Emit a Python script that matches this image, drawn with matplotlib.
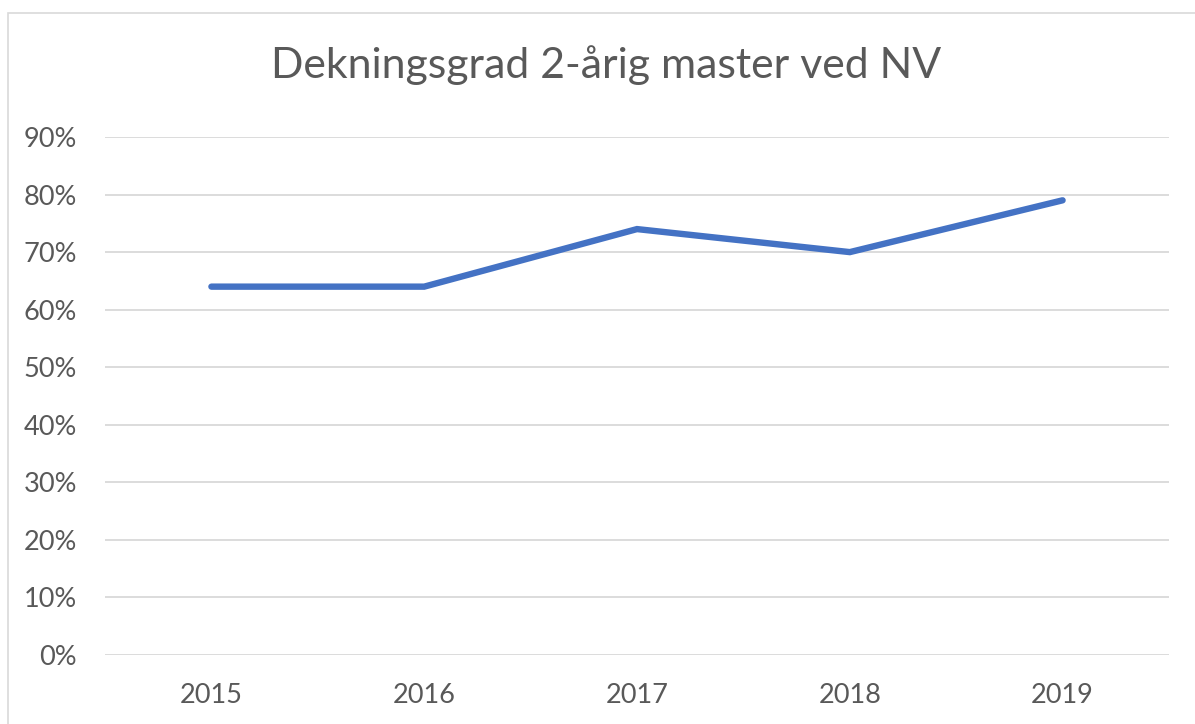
import matplotlib
matplotlib.use("Agg")
import matplotlib.pyplot as plt
from matplotlib.patches import Rectangle
from matplotlib.ticker import PercentFormatter

years = ["2015", "2016", "2017", "2018", "2019"]
coverage = [0.64, 0.64, 0.74, 0.70, 0.79]
y_ticks = [0.0, 0.1, 0.2, 0.3, 0.4, 0.5, 0.6, 0.7, 0.8, 0.9]
title = "Dekningsgrad 2-årig master ved NV"

W, H = 1195, 724
plt.rcParams['font.family'] = ['Lato', 'DejaVu Sans']
fig = plt.figure(figsize=(W / 100, H / 100), dpi=100)
fig.patch.set_facecolor("white")

# chart border (left/top visible)
fig.patches.append(Rectangle((8 / W, -0.1), 1.2, 1 - 13 / H + 0.1, transform=fig.transFigure,
                             fill=False, edgecolor="#D9D9D9", linewidth=1.2))

ax = fig.add_axes([105 / W, 69 / H, (1169 - 105) / W, (655 - 137) / H])
x = list(range(len(years)))
ax.plot(x, coverage, color="#4472C4", linewidth=4.6, solid_capstyle="round",
        solid_joinstyle="miter", clip_on=False, zorder=3)
ax.set_xlim(-0.5, len(years) - 0.5)
ax.set_ylim(0, 0.9)
ax.set_yticks(y_ticks)
ax.yaxis.set_major_formatter(PercentFormatter(1.0, decimals=0))
ax.set_xticks(x)
ax.set_xticklabels(years)
ax.grid(axis="y", color="#D9D9D9", linewidth=1.3)
ax.set_axisbelow(True)
for s in ax.spines.values():
    s.set_visible(False)
ax.tick_params(axis="both", length=0, labelsize=19.5, labelcolor="#595959")
ax.tick_params(axis="y", pad=20)
ax.tick_params(axis="x", pad=20)

fig.text(606 / W, 1 - 65 / H, title, ha="center", va="center", fontsize=30.8,
         color="#595959")

fig.savefig("out.png", dpi=100)
